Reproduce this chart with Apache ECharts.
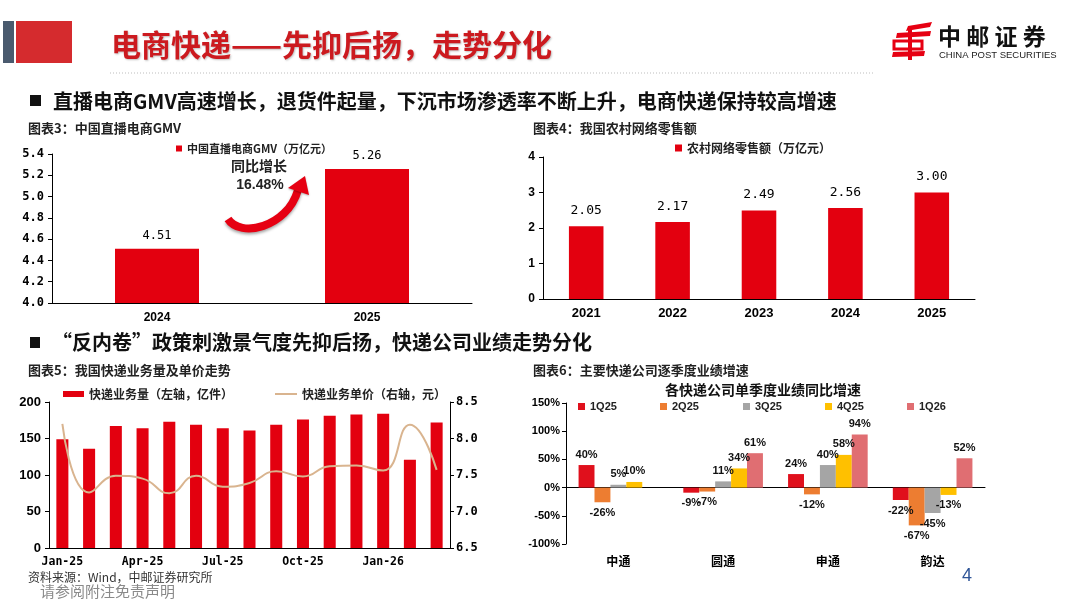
<!DOCTYPE html>
<html><head><meta charset="utf-8">
<script src="https://cdn.jsdelivr.net/npm/echarts/dist/echarts.min.js"></script>
<style>html,body{margin:0;padding:0;background:#fff}#c{width:1067px;height:600px}</style>
</head><body><div id="c"></div>
<script>
// ---- data ----
const gmvYears = ['2024', '2025'];
const gmvValues = [4.51, 5.26];
const gmvName = '中国直播电商GMV（万亿元）';

const ruralYears = ['2021', '2022', '2023', '2024', '2025'];
const ruralValues = [2.05, 2.17, 2.49, 2.56, 3.00];
const ruralName = '农村网络零售额（万亿元）';

const months = ['Jan-25','Feb-25','Mar-25','Apr-25','May-25','Jun-25','Jul-25','Aug-25','Sep-25','Oct-25','Nov-25','Dec-25','Jan-26','Feb-26','Mar-26'];
const volume = [149, 136, 167, 164, 173, 169, 164, 161, 169, 176, 181, 183, 184, 121, 172];
const price = [8.20, 7.26, 7.49, 7.45, 7.25, 7.49, 7.34, 7.39, 7.55, 7.48, 7.62, 7.63, 7.56, 8.19, 7.57];
const volumeName = '快递业务量（左轴，亿件）';
const priceName = '快递业务单价（右轴，元）';

const companies = ['中通', '圆通', '申通', '韵达'];
const quarters = ['1Q25', '2Q25', '3Q25', '4Q25', '1Q26'];
const q1_25 = [40, -9, 24, -22];
const q2_25 = [-26, -7, -12, -67];
const q3_25 = [5, 11, 40, -45];
const q4_25 = [10, 34, 58, -13];
const q1_26 = [null, 61, 94, 52];
const quarterValues = [q1_25, q2_25, q3_25, q4_25, q1_26];

// ---- styles ----
const CJK = '"Noto Sans CJK SC", "Noto Sans", sans-serif';
const SANS = '"Liberation Sans", Arial, sans-serif';
const MONO = '"DejaVu Sans Mono", "Liberation Mono", monospace';
const RED = '#e3000f';
const TAN = '#d9b48f';
const quarterColors = ['#e0101c', '#ed7d31', '#a5a5a5', '#ffc000', '#e06e72'];
const quarterLegendLeft = [578, 660, 743, 825, 907];
const BLACK_LINE = { show: true, lineStyle: { color: '#000', width: 1 } };

const chart = echarts.init(document.getElementById('c'), null, { renderer: 'canvas' });

function t(text, x, y, font, fill, align, extra) {
  return { type: 'text', silent: true, style: Object.assign({ text: text, x: x, y: y, font: font, fill: fill || '#000', textAlign: align || 'left', textVerticalAlign: 'middle' }, extra || {}) };
}

const graphics = [
  // header blocks
  { type: 'rect', shape: { x: 3, y: 21, width: 11, height: 42 }, style: { fill: '#4a5a6e' } },
  { type: 'rect', shape: { x: 16, y: 21, width: 56, height: 42 }, style: { fill: '#d52b2e' } },
  t('电商快递——先抑后扬，走势分化', 111, 45, 'bold 30px ' + CJK, '#cc1a1f', 'left', { textShadowColor: 'rgba(0,0,0,0.25)', textShadowBlur: 2, textShadowOffsetX: 1, textShadowOffsetY: 1 }),
  { type: 'line', shape: { x1: 110, y1: 73, x2: 875, y2: 73 }, style: { stroke: '#bdbdbd', lineWidth: 1, lineDash: [1, 2] } },
  // logo
  { type: 'polygon', shape: { points: [[908, 26], [932, 22], [930, 27], [906, 31]] }, style: { fill: '#e60012' } },
  { type: 'polygon', shape: { points: [[897, 33], [931, 31], [930, 36], [896, 38]] }, style: { fill: '#e60012' } },
  { type: 'rect', shape: { x: 894, y: 41, width: 28, height: 8 }, style: { fill: 'none', stroke: '#e60012', lineWidth: 3 } },
  { type: 'polygon', shape: { points: [[893, 52], [925, 51], [924, 56], [892, 57]] }, style: { fill: '#e60012' } },
  { type: 'rect', shape: { x: 908, y: 29, width: 4, height: 31 }, style: { fill: '#e60012' } },
  t('中 邮 证 券', 938, 36, 'bold 23px ' + CJK, '#111'),
  t('CHINA POST SECURITIES', 939, 55, '9.5px "Liberation Sans Narrow", ' + SANS, '#222'),
  // section headings
  { type: 'rect', shape: { x: 30, y: 95, width: 11, height: 11 }, style: { fill: '#111' } },
  t('直播电商GMV高速增长，退货件起量，下沉市场渗透率不断上升，电商快递保持较高增速', 53, 101, 'bold 20px ' + CJK, '#111'),
  { type: 'rect', shape: { x: 30, y: 337, width: 10, height: 11 }, style: { fill: '#111' } },
  t('“反内卷”政策刺激景气度先抑后扬，快递公司业绩走势分化', 52, 342, 'bold 20px ' + CJK, '#111'),
  // chart titles
  t('图表3：中国直播电商GMV', 28, 128, 'bold 13px ' + CJK, '#222'),
  t('图表4：我国农村网络零售额', 533, 128, 'bold 13px ' + CJK, '#222'),
  t('图表5：我国快递业务量及单价走势', 28, 370, 'bold 13px ' + CJK, '#222'),
  t('图表6：主要快递公司逐季度业绩增速', 533, 370, 'bold 13px ' + CJK, '#222'),
  t('各快递公司单季度业绩同比增速', 763, 390, 'bold 14px ' + CJK, '#111', 'center'),
  // annotation in chart 3
  { type: 'bezierCurve', shape: { x1: 228, y1: 219, cpx1: 240, cpy1: 238, cpx2: 287, cpy2: 228, x2: 298, y2: 190 }, style: { stroke: '#e60012', lineWidth: 8, fill: 'none', shadowColor: 'rgba(0,0,0,0.35)', shadowBlur: 3, shadowOffsetY: 2 } },
  { type: 'polygon', shape: { points: [[305, 176], [309, 195], [288, 188]] }, style: { fill: '#e60012', shadowColor: 'rgba(0,0,0,0.3)', shadowBlur: 2, shadowOffsetY: 1 } },
  t('同比增长', 259, 166, 'bold 14px ' + CJK, '#222', 'center'),
  t('16.48%', 260, 185, 'bold 14px ' + SANS, '#222', 'center'),
  // footer
  t('资料来源：Wind，中邮证券研究所', 28, 577, '12px ' + CJK, '#333'),
  t('请参阅附注免责声明', 40, 591, '15px ' + CJK, '#8a8a8a'),
  t('4', 962, 576, '18px ' + SANS, '#2f5597')
];

const valueAxisBase = {
  type: 'value',
  axisLine: BLACK_LINE,
  axisTick: { show: true, length: 4, lineStyle: { color: '#000' } },
  splitLine: { show: false }
};

const legendText = (size, family) => ({ fontFamily: family || CJK, fontWeight: 'bold', fontSize: size, color: '#222' });

const legends = [
  { data: [gmvName], left: 176, top: 143, icon: 'rect', itemWidth: 6, itemHeight: 6, padding: 0, textStyle: legendText(11) },
  { data: [ruralName], left: 675, top: 142, icon: 'rect', itemWidth: 7, itemHeight: 7, padding: 0, textStyle: legendText(12) },
  { data: [volumeName], left: 63, top: 388, icon: 'rect', itemWidth: 21, itemHeight: 6, padding: 0, textStyle: legendText(12) },
  { data: [priceName], left: 275, top: 388, icon: 'rect', itemWidth: 22, itemHeight: 2, padding: 0, textStyle: legendText(12) }
].concat(quarters.map((q, i) => ({
  data: [q], left: quarterLegendLeft[i], top: 401, icon: 'rect', itemWidth: 7, itemHeight: 7, padding: 0, textStyle: legendText(11, SANS)
})));

const option = {
  animation: false,
  backgroundColor: '#fff',
  grid: [
    { left: 52, top: 154, width: 420, height: 149, outerBoundsMode: 'none' },
    { left: 543, top: 157, width: 432, height: 142, outerBoundsMode: 'none' },
    { left: 49, top: 402, width: 401, height: 146, outerBoundsMode: 'none' },
    { left: 566, top: 403, width: 419, height: 141, outerBoundsMode: 'none' }
  ],
  xAxis: [
    { type: 'category', gridIndex: 0, data: gmvYears, axisLine: BLACK_LINE, axisTick: { show: false },
      axisLabel: { color: '#000', fontFamily: SANS, fontWeight: 'bold', fontSize: 12, margin: 9 } },
    { type: 'category', gridIndex: 1, data: ruralYears, axisLine: BLACK_LINE, axisTick: { show: false },
      axisLabel: { color: '#000', fontFamily: SANS, fontWeight: 'bold', fontSize: 13, margin: 8 } },
    { type: 'category', gridIndex: 2, data: months, axisLine: BLACK_LINE, axisTick: { show: false },
      axisLabel: { color: '#000', fontFamily: MONO, fontWeight: 'bold', fontSize: 11.5, interval: 2, margin: 8 } },
    { type: 'category', gridIndex: 3, data: companies, axisLine: { show: false, onZero: false }, axisTick: { show: false },
      axisLabel: { color: '#000', fontFamily: CJK, fontWeight: 'bold', fontSize: 12, margin: 11 } },
    { type: 'category', gridIndex: 3, data: companies, axisLine: { show: true, onZero: true, lineStyle: { color: '#000', width: 1 } },
      axisTick: { show: false }, axisLabel: { show: false } }
  ],
  yAxis: [
    Object.assign({}, valueAxisBase, { gridIndex: 0, min: 4.0, max: 5.4, interval: 0.2,
      axisLabel: { color: '#000', fontFamily: MONO, fontWeight: 'bold', fontSize: 12, margin: 8, formatter: v => v.toFixed(1) } }),
    Object.assign({}, valueAxisBase, { gridIndex: 1, min: 0, max: 4, interval: 1,
      axisLabel: { color: '#000', fontFamily: SANS, fontWeight: 'bold', fontSize: 12, margin: 8 } }),
    Object.assign({}, valueAxisBase, { gridIndex: 2, min: 0, max: 200, interval: 50,
      axisLabel: { color: '#000', fontFamily: SANS, fontWeight: 'bold', fontSize: 13, margin: 8 } }),
    Object.assign({}, valueAxisBase, { gridIndex: 2, position: 'right', min: 6.5, max: 8.5, interval: 0.5,
      axisLabel: { color: '#000', fontFamily: MONO, fontWeight: 'bold', fontSize: 12, margin: 6, formatter: v => v.toFixed(1) } }),
    Object.assign({}, valueAxisBase, { gridIndex: 3, min: -100, max: 150, interval: 50,
      axisLabel: { color: '#000', fontFamily: SANS, fontWeight: 'bold', fontSize: 11, margin: 6, formatter: v => v + '%' } })
  ],
  legend: legends,
  graphic: graphics,
  series: [
    { type: 'bar', name: gmvName, xAxisIndex: 0, yAxisIndex: 0, data: gmvValues, barWidth: '40%',
      itemStyle: { color: RED },
      label: { show: true, position: 'top', distance: 7, color: '#000', fontFamily: MONO, fontSize: 12, formatter: p => p.value.toFixed(2) } },
    { type: 'bar', name: ruralName, xAxisIndex: 1, yAxisIndex: 1, data: ruralValues, barWidth: '40%',
      itemStyle: { color: RED },
      label: { show: true, position: 'top', distance: 9, color: '#000', fontFamily: MONO, fontSize: 13, formatter: p => p.value.toFixed(2) } },
    { type: 'bar', name: volumeName, xAxisIndex: 2, yAxisIndex: 2, data: volume, barWidth: '45%',
      itemStyle: { color: RED } },
    { type: 'line', name: priceName, xAxisIndex: 2, yAxisIndex: 3, data: price, smooth: 0.5, symbol: 'none',
      itemStyle: { color: TAN }, lineStyle: { color: TAN, width: 2 } }
  ].concat(quarters.map((q, i) => ({
    type: 'bar', name: q, xAxisIndex: 3, yAxisIndex: 4, barGap: '0%', barCategoryGap: '24%',
    itemStyle: { color: quarterColors[i] },
    data: quarterValues[i].map(v => v == null ? '-' : { value: v, label: { position: v < 0 ? 'bottom' : 'top' } }),
    label: { show: true, color: '#111', fontFamily: SANS, fontWeight: 'bold', fontSize: 11, distance: 5, formatter: p => p.value + '%' }
  })))
};

chart.setOption(option);
</script>
</body></html>
